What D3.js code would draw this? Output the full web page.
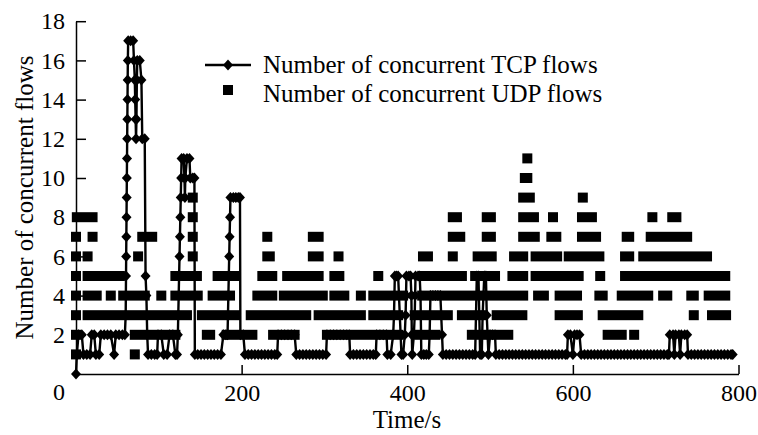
<!DOCTYPE html>
<html><head><meta charset="utf-8">
<script src="https://cdn.jsdelivr.net/npm/d3@7"></script>
<style>body{margin:0;background:#fff}</style>
</head><body><svg id="c" width="758" height="435"></svg>
<script>
// ---- data ----
const xTicks = [200, 400, 600, 800];
const yTicks = [2, 4, 6, 8, 10, 12, 14, 16, 18];
const xTitle = "Time/s";
const yTitle = "Number of concurrent flows";
const legendLabels = ["Number of concurrent TCP flows", "Number of concurrent UDP flows"];

// TCP: [time (s), number of concurrent flows]
const tcpSeries = [
 [0,0],[1,1],[3,2],[7,2],[9,1],[13,1],[17,1],[19,2],[22,2],[24,1],[28,1],[30,2],[34,2],[38,2],[42,2],[46,1],[48,2],[52,2],[56,2],[59,2],
 [60,3],[60.2,4],[60.4,5],[60.6,6],[60.8,7],[61,8],[61.2,9],[61.4,10],[61.6,11],[61.8,12],[62,13],[62.2,14],[62.4,15],[62.6,16],[63,17],[66,17],[69,17],
 [70,16],[71,15],[71.5,14],[72,13],[72.5,12],[73,13],[73.5,15],[74,16],[77,16],[79,15],[80,12],[83,12],[84,5],[85,4],[86,2],
 [87,1],[91,1],[95,1],[98,1],[99,2],[103,2],[106,1],[110,1],[113,2],[117,2],[120,1],[122,1],[123,2],
 [123.5,3],[124,4],[124.5,5],[125,6],[125.5,7],[126,8],[126.5,9],[127,10],[127.5,11],[130,11],[131,10],[131.5,9],[132,10],[134,11],[137,11],[138,10],[141,10],[143,10],[143.5,1],
 [147,1],[151,1],[155,1],[159,1],[163,1],[167,1],[171,1],[175,1],[178,2],[181,2],[183,2],
 [183.5,3],[184,4],[184.5,5],[185,6],[185.5,7],[186,8],[186.5,9],[190,9],[193,9],[196,9],[198,9],[198.5,2],
 [202,2],[204,1],[208,1],[212,1],[216,1],[220,1],[224,1],[228,1],[232,1],[236,1],[240,1],[243,1],[244,2],[248,2],[252,2],[256,2],[260,2],[264,2],
 [266,1],[270,1],[274,1],[278,1],[282,1],[286,1],[290,1],[294,1],[298,1],[302,1],[303,2],[307,2],[311,2],[315,2],[319,2],[323,2],[327,2],[330,2],
 [331,1],[335,1],[339,1],[343,1],[347,1],[351,1],[355,1],[359,1],[362,1],[363,2],[367,2],[371,2],[375,2],[376,1],[380,1],
 [383,2],[384,3],[384.5,4],[385,5],[387,5],[389,5],[390,4],[391,3],[392,2],[393,1],[395,1],[397,2],[398,3],[398.5,4],[399,5],[402,5],[404,5],[405,4],[405.5,2],[406,1],
 [408,2],[409,3],[409.5,4],[410,5],[413,5],[415,5],[416,4],[417,1],[420,1],[423,1],[426,1],[427,2],[427.5,3],[428,4],[431,4],[434,4],[437,4],[440,4],[441,3],[442,2],[443,1],
 [447,1],[451,1],[455,1],[459,1],[463,1],[467,1],[471,1],[475,1],[479,1],[482,1],[483,3],[484,5],[486,5],[487,3],[488,1],[490,1],[491,3],[492,4],[493,5],[495,5],[496,3],[497,2],[498,1],
 [500,2],[503,2],[506,2],[507,1],
 [511,1],[515,1],[519,1],[523,1],[527,1],[531,1],[535,1],[539,1],[543,1],[547,1],[551,1],[555,1],[559,1],[563,1],[567,1],[571,1],[575,1],[579,1],[583,1],[587,1],[591,1],[593,1],
 [594,2],[597,2],[600,1],[602,2],[605,2],[608,2],[610,1],
 [614,1],[618,1],[622,1],[626,1],[630,1],[634,1],[638,1],[642,1],[646,1],[650,1],[654,1],[658,1],[662,1],[666,1],[670,1],[674,1],[678,1],[682,1],[686,1],[690,1],[694,1],[698,1],[702,1],[706,1],[710,1],[714,1],[716,1],
 [717,2],[721,2],[722.5,1],[724,2],[728,2],[729.5,1],[731,2],[735,2],[738,2],[739,1],
 [743,1],[747,1],[751,1],[755,1],[759,1],[763,1],[767,1],[771,1],[775,1],[779,1],[783,1],[787,1],[791,1],[793,1]
];

// UDP: for each flow count, the time spans [from, to] (s) where samples sit at that count
const udpL1 = [[0,0],[71,71]];
const udpL2 = [[0,0],[71,120],[158,162],[182,213],[238,264],[303,389],[415,434],[478,522],[642,659],[674,674]];
const udpL3 = [[0,0],[14,134],[152,192],[211,278],[293,344],[359,389],[409,449],[466,491],[508,539],[584,606],[636,679],[746,746],[768,785]];
const udpL4 = [[0,0],[14,25],[42,42],[57,83],[103,103],[120,147],[165,186],[219,237],[251,298],[312,324],[344,344],[359,395],[418,540],[558,565],[584,605],[632,636],[659,691],[709,714],[743,746],[764,784]];
const udpL5 = [[0,0],[14,53],[120,146],[171,192],[225,237],[255,293],[312,318],[365,365],[419,466],[482,506],[527,540],[555,607],[633,633],[663,784]];
const udpL6 = [[0,0],[14,14],[75,75],[141,141],[231,234],[286,293],[317,317],[419,425],[455,455],[485,502],[529,540],[555,581],[595,632],[663,668],[685,762]];
const udpL7 = [[0,0],[20,20],[80,92],[141,141],[231,231],[286,293],[455,464],[496,501],[540,554],[574,580],[611,628],[665,668],[694,738]];
const udpL8 = [[1,20],[141,141],[455,460],[496,501],[540,553],[576,576],[611,623],[696,696],[720,725]];
const udpL9 = [[141,141],[540,548],[612,612]];
const udpL10 = [[542,545]];
const udpL11 = [[545,545]];
const udpSeries = [[1,udpL1],[2,udpL2],[3,udpL3],[4,udpL4],[5,udpL5],[6,udpL6],[7,udpL7],[8,udpL8],[9,udpL9],[10,udpL10],[11,udpL11]];

// ---- drawing ----
const svg = d3.select("#c");
const font = "'Liberation Serif','Times New Roman',serif";
const x = d3.scaleLinear().domain([0, 800]).range([76, 738.5]);
const y = d3.scaleLinear().domain([0, 18]).range([374, 21.2]);
const sq = 10;
const diamond = "M0,-5.5L5,0L0,5.5L-5,0Z";

// UDP squares (consecutive squares merge into bars)
const gu = svg.append("g");
udpSeries.forEach(([v, runs]) => {
  gu.selectAll(null).data(runs).join("rect")
    .attr("x", d => x(d[0]) - sq / 2)
    .attr("width", d => x(d[1]) - x(d[0]) + sq)
    .attr("y", y(v) - sq / 2)
    .attr("height", sq)
    .attr("fill", "#000");
});

// axes
const xAxis = svg.append("g").attr("transform", `translate(0,${y(0)})`)
  .call(d3.axisBottom(x).tickValues(xTicks).tickSizeInner(-9).tickSizeOuter(0).tickPadding(10));
const yAxis = svg.append("g").attr("transform", `translate(${x(0)},0)`)
  .call(d3.axisLeft(y).tickValues(yTicks).tickSizeInner(-10).tickSizeOuter(0).tickPadding(11));
[xAxis, yAxis].forEach(a => {
  a.selectAll("path,line").attr("stroke", "#000").attr("stroke-width", 1.5);
  a.selectAll("text").attr("font-family", font).attr("font-size", 24).attr("fill", "#000");
});
svg.append("text").attr("x", 65).attr("y", 400).attr("text-anchor", "end")
  .attr("font-family", font).attr("font-size", 24).text("0");

// TCP line + diamonds
const line = d3.line().x(d => x(d[0])).y(d => y(d[1]));
svg.append("path").datum(tcpSeries).attr("d", line)
  .attr("fill", "none").attr("stroke", "#000").attr("stroke-width", 2.4).attr("stroke-linejoin", "round");
svg.append("g").selectAll("path").data(tcpSeries).join("path")
  .attr("d", diamond).attr("fill", "#000")
  .attr("transform", d => `translate(${x(d[0])},${y(d[1])})`);

// titles
svg.append("text").attr("x", 407).attr("y", 428).attr("text-anchor", "middle")
  .attr("font-family", font).attr("font-size", 25).text(xTitle);
svg.append("text").attr("transform", "translate(33,197.5) rotate(-90)").attr("text-anchor", "middle")
  .attr("font-family", font).attr("font-size", 25).text(yTitle);

// legend
const lg = svg.append("g");
lg.append("line").attr("x1", 205).attr("x2", 251).attr("y1", 65).attr("y2", 65)
  .attr("stroke", "#000").attr("stroke-width", 2.5);
lg.append("path").attr("d", diamond).attr("transform", "translate(228,65)");
lg.append("rect").attr("x", 223).attr("y", 85).attr("width", 10).attr("height", 10).attr("fill", "#000");
lg.selectAll("text").data(legendLabels).join("text")
  .attr("x", 263).attr("y", (d, i) => 73 + i * 29)
  .attr("font-family", font).attr("font-size", 25).text(d => d);
</script></body></html>
